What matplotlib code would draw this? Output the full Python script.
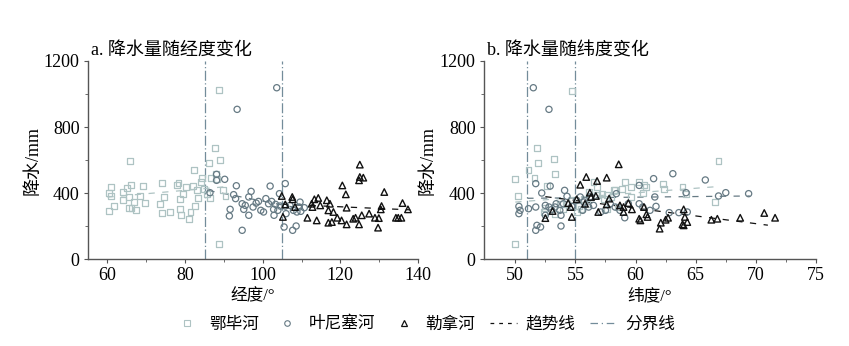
import matplotlib.pyplot as plt
import numpy as np
from matplotlib.lines import Line2D

plt.rcParams["font.family"] = ["Liberation Serif", "Noto Sans CJK SC"]

# ---- panel a: longitude ----
ob_lon = [60.4, 60.9, 60.9, 60.4, 61.8, 63.9, 63.9, 65.1, 65.7, 66.0, 65.6, 65.6, 66.2,
          66.8, 67.4, 68.4, 69.2, 69.6, 73.5, 74.1, 74.0, 74.6, 76.1, 78.0, 78.3, 78.6,
          78.6, 78.9, 79.5, 80.3, 81.0, 81.4, 82.0, 82.2, 82.5, 83.1, 83.3, 84.0, 84.4,
          84.8, 85.7, 86.1, 86.4, 86.7, 87.6, 88.0, 88.2, 88.8, 88.7, 89.1, 89.8, 90.4]
ob_lon_p = [402, 436, 382, 289, 321, 408, 356, 432, 592, 450, 376, 309, 309,
            343, 295, 382, 442, 339, 335, 463, 279, 376, 283, 450, 461, 362,
            305, 265, 396, 438, 244, 287, 440, 539, 321, 420, 370, 467, 491,
            426, 396, 582, 370, 491, 675, 517, 487, 1022, 89, 602, 420, 382]

ye_lon = [86.4, 88.1, 88.1, 90.2, 93.2, 93.4, 92.5, 93.0, 91.6, 91.4, 94.7, 94.7, 95.1,
          95.5, 96.4, 97.0, 96.4, 97.5, 98.3, 98.9, 99.5, 100.2, 100.8, 101.5, 101.9,
          102.3, 102.8, 103.3, 103.6, 103.9, 104.3, 104.5, 105.8, 105.8, 105.5, 106.0,
          107.0, 107.7, 107.9, 108.6, 108.8, 109.4, 109.6, 109.8, 110.7, 102.9]
ye_lon_p = [402, 513, 477, 483, 444, 907, 390, 366, 301, 261, 174, 335, 301,
            325, 376, 410, 265, 315, 339, 349, 295, 285, 366, 335, 442,
            349, 301, 331, 1038, 295, 396, 321, 457, 321, 194, 275,
            325, 174, 295, 200, 285, 315, 345, 289, 311, 265]

le_lon = [104.9, 105.2, 105.8, 107.6, 107.7, 108.3, 111.5, 112.6, 112.8, 113.3, 113.9,
          114.3, 114.8, 116.5, 116.9, 117.3, 116.9, 117.8, 118.2, 119.2, 120.3, 120.5,
          121.4, 121.6, 121.6, 123.3, 123.9, 124.8, 124.8, 125.0, 125.0, 125.9, 125.5,
          127.4, 128.9, 129.9, 129.7, 130.6, 130.4, 131.3, 134.3, 134.9, 135.7, 136.0,
          137.4]
le_lon_p = [382, 255, 331, 376, 362, 315, 250, 335, 315, 362, 234,
            370, 325, 356, 295, 335, 220, 224, 285, 250, 234, 446,
            392, 311, 210, 244, 250, 210, 477, 572, 497, 493, 265,
            275, 250, 248, 190, 321, 301, 406, 250, 250, 250, 339,
            301]

# trend line end points (x, y)
trend_a = {"ob": ([60, 90], [375, 437]),
           "ye": ([86, 110], [415, 305]),
           "le": ([105, 138], [332, 298])}
bounds_a = [85, 105]

# ---- panel b: latitude ----
ob_lat = [50.0, 50.0, 50.2, 51.1, 51.6, 51.8, 51.9, 53.2, 53.3, 54.7, 52.6,
          52.4, 53.3, 53.7, 54.3, 54.7, 55.1, 55.3, 55.7, 56.0, 56.3, 56.8, 57.4,
          57.6, 58.0, 58.5, 56.5, 56.8, 57.2, 58.3, 59.1, 59.6, 60.3, 60.6, 60.7,
          60.9, 62.3, 62.4, 63.9, 64.2, 66.6, 66.9, 58.2, 58.9, 59.6, 57.6, 52.5,
          54.0, 55.5, 56.1]
ob_lat_p = [487, 89, 380, 541, 491, 675, 584, 604, 515, 1020, 444,
            285, 275, 335, 335, 356, 285, 319, 366, 335, 376, 386, 362,
            305, 376, 315, 467, 436, 396, 416, 467, 436, 467, 402, 446,
            436, 452, 422, 436, 392, 345, 592, 418, 422, 378, 388, 310,
            300, 305, 405]

ye_lat = [51.5, 52.8, 51.7, 52.9, 52.2, 50.3, 50.4, 50.3, 51.1, 51.7, 51.8, 51.7,
          52.1, 52.5, 52.5, 52.8, 53.0, 53.3, 53.4, 53.7, 53.8, 53.8, 54.1, 54.0,
          54.3, 54.7, 55.1, 55.4, 55.6, 55.7, 56.1, 56.2, 56.5, 57.1, 57.5, 57.9,
          58.4, 58.3, 58.7, 59.1, 59.4, 60.3, 60.3, 60.6, 61.2, 61.5, 61.6, 61.7,
          62.8, 63.1, 63.6, 64.2, 64.3, 65.8, 66.9, 67.5, 69.4]
ye_lat_p = [1038, 907, 457, 442, 400, 319, 295, 275, 305, 315, 204, 174,
            194, 325, 265, 315, 299, 315, 335, 295, 265, 200, 416, 335,
            380, 319, 356, 376, 295, 345, 315, 376, 325, 285, 295, 335,
            396, 315, 295, 250, 335, 335, 446, 315, 295, 487, 376, 319,
            281, 517, 281, 402, 285, 479, 382, 402, 396]

le_lat = [52.5, 53.1, 54.4, 54.6, 54.7, 55.1, 55.4, 55.9, 56.2, 56.3, 55.8, 56.7,
          56.8, 56.9, 57.6, 57.8, 57.6, 58.6, 58.7, 59.0, 59.0, 59.4, 59.7, 60.3,
          60.4, 60.7, 60.9, 61.0, 62.0, 62.1, 62.5, 62.7, 64.0, 63.9, 64.1, 64.0,
          64.3, 66.3, 66.8, 68.7, 70.7, 71.6]
le_lat_p = [248, 291, 339, 315, 255, 362, 450, 497, 402, 376, 335, 382,
            473, 285, 493, 366, 331, 574, 325, 315, 285, 339, 301, 244,
            234, 315, 271, 255, 184, 220, 238, 250, 301, 210, 255, 204,
            224, 238, 244, 250, 279, 250]

trend_b = {"ob": ([50, 67], [345, 440]),
           "ye": ([51, 69.5], [368, 382]),
           "le": ([52.5, 71], [378, 205])}
bounds_b = [51, 55]

c_ob = "#aec3c3"
c_ye = "#667a84"
c_le = "#111111"
c_bd = "#738c9a"

fig = plt.figure(figsize=(8.49, 3.46), dpi=100)
ax_a = fig.add_axes([0.1037, 0.2514, 0.3887, 0.5723])
ax_b = fig.add_axes([0.5701, 0.2514, 0.391, 0.5723])


def draw(ax, ob, ye, le, trend, bounds, xlim, xticks, xlabel, title):
    ax.scatter(ob[0], ob[1], marker="s", s=18, facecolors="none",
               edgecolors=c_ob, linewidths=0.9, zorder=3)
    ax.scatter(ye[0], ye[1], marker="o", s=20, facecolors="none",
               edgecolors=c_ye, linewidths=0.9, zorder=3)
    ax.scatter(le[0], le[1], marker="^", s=22, facecolors="none",
               edgecolors=c_le, linewidths=1.0, zorder=4)
    for key, col in (("ob", c_ob), ("ye", c_ye), ("le", c_le)):
        ax.plot(trend[key][0], trend[key][1], ls=(0, (5, 6)), color=col,
                lw=0.9, zorder=2)
    for b in bounds:
        ax.axvline(b, color=c_bd, ls=(0, (8, 2, 1, 2)), lw=0.9, zorder=1)
    ax.set_xlim(*xlim)
    ax.set_ylim(0, 1200)
    ax.set_xticks(xticks)
    ax.set_xticks(np.arange(xticks[0], xticks[-1] + 0.1,
                            (xticks[1] - xticks[0]) / 2), minor=True)
    ax.set_yticks([0, 400, 800, 1200])
    ax.set_yticks([200, 600, 1000], minor=True)
    for s in ("top", "right"):
        ax.spines[s].set_visible(False)
    for s in ("left", "bottom"):
        ax.spines[s].set_color("#555555")
        ax.spines[s].set_linewidth(1.0)
    ax.tick_params(which="both", direction="out", color="#555555",
                   labelsize=13, pad=3)
    ax.tick_params(which="major", length=3)
    ax.tick_params(which="minor", length=2)
    ax.set_xlabel(xlabel, fontsize=12, labelpad=3)
    ax.set_ylabel("降水/mm", fontsize=13, labelpad=2)
    ax.set_title(title, fontsize=13, loc="left", x=0.01, y=1.0, pad=4)


draw(ax_a, (ob_lon, ob_lon_p), (ye_lon, ye_lon_p), (le_lon, le_lon_p),
     trend_a, bounds_a, (55, 140), [60, 80, 100, 120, 140], "经度/°",
     "a. 降水量随经度变化")
draw(ax_b, (ob_lat, ob_lat_p), (ye_lat, ye_lat_p), (le_lat, le_lat_p),
     trend_b, bounds_b, (47.4, 75), [50, 55, 60, 65, 70, 75], "纬度/°",
     "b. 降水量随纬度变化")

handles = [
    Line2D([], [], marker="s", ls="none", mfc="none", mec=c_ob, ms=4, mew=0.8),
    Line2D([], [], marker="o", ls="none", mfc="none", mec=c_ye, ms=4, mew=0.8),
    Line2D([], [], marker="^", ls="none", mfc="none", mec=c_le, ms=4, mew=0.9),
    Line2D([], [], ls=(0, (3, 4)), color=c_le, lw=0.9),
    Line2D([], [], ls=(0, (6, 3, 1, 3)), color=c_bd, lw=0.9),
]
labels = ["鄂毕河", "叶尼塞河", "勒拿河", "趋势线", "分界线"]
fig.legend(handles, labels, loc="center", bbox_to_anchor=(0.5, 0.062), ncol=5,
           frameon=False, fontsize=12, handlelength=1.6, columnspacing=0.9,
           handletextpad=0.5)

fig.savefig("out.png", dpi=100)
